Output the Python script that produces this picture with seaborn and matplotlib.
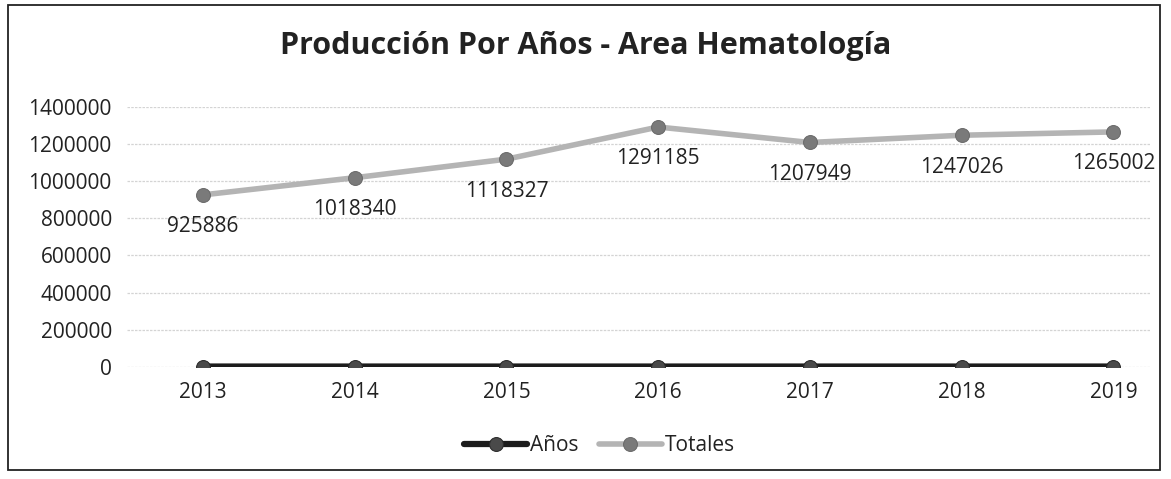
import pandas as pd
import matplotlib
matplotlib.use("Agg")
import matplotlib.pyplot as plt
import seaborn as sns
from matplotlib.patches import Rectangle

# Data
years = ["2013", "2014", "2015", "2016", "2017", "2018", "2019"]
anios = [2013, 2014, 2015, 2016, 2017, 2018, 2019]
totales = [925886, 1018340, 1118327, 1291185, 1207949, 1247026, 1265002]
y_ticks = [0, 200000, 400000, 600000, 800000, 1000000, 1200000, 1400000]

df = pd.DataFrame({"pos": range(len(years)), "Años": anios, "Totales": totales})

sns.set_theme(style="white")
plt.rcParams["font.family"] = ["Open Sans", "DejaVu Sans"]

fig = plt.figure(figsize=(11.71, 4.79), dpi=100)
ax = fig.add_axes([0.1085, 0.234, 0.8735, 0.543])

sns.lineplot(data=df, x="pos", y="Años", ax=ax, color="#1c1c1c", linewidth=4.5,
             marker="o", markersize=10, markerfacecolor="#4a4a4a",
             markeredgecolor="#2a2a2a", label="Años", zorder=3)
sns.lineplot(data=df, x="pos", y="Totales", ax=ax, color="#b4b4b4", linewidth=4,
             marker="o", markersize=10, markerfacecolor="#7a7a7a",
             markeredgecolor="#6a6a6a", label="Totales", zorder=3)

# data labels below the Totales points
for i, v in enumerate(totales):
    ax.annotate(str(v), (i, v), xytext=(0, -23), textcoords="offset points",
                ha="center", va="center", fontsize=15, color="#222222")

ax.set_xlim(-0.5, 6.24)
ax.set_ylim(0, 1400000)
ax.set_xticks(range(len(years)))
ax.set_xticklabels(years)
ax.set_yticks(y_ticks)
ax.set_yticklabels([str(t) for t in y_ticks])
ax.tick_params(axis="both", length=0, labelsize=15, colors="#222222")
ax.tick_params(axis="x", pad=11)
ax.tick_params(axis="y", pad=11)
ax.set_xlabel("")
ax.set_ylabel("")
ax.grid(axis="y", color="#d4d4d4", linewidth=0.9, linestyle=(0, (2, 1)))
ax.set_axisbelow(True)
for s in ax.spines.values():
    s.set_visible(False)

leg = ax.legend(loc="upper center", bbox_to_anchor=(0.462, -0.19), ncol=2,
                frameon=False, fontsize=15, handlelength=3.0, handletextpad=0.15,
                columnspacing=1.0)
for t in leg.get_texts():
    t.set_color("#222222")

fig.text(0.5, 0.905, "Producción Por Años - Area Hematología", ha="center",
         va="center", fontsize=22, fontweight="bold", color="#222222")

fig.patches.append(Rectangle((0.007, 0.019), 0.984, 0.971, transform=fig.transFigure,
                             fill=False, edgecolor="#222222", linewidth=1.3))

fig.savefig("out.png", dpi=100)
